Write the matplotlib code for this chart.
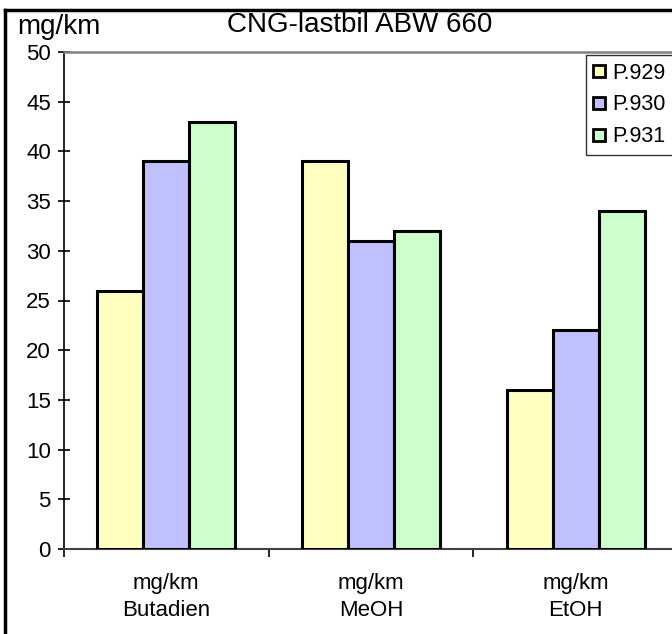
import matplotlib
matplotlib.use('Agg')
import matplotlib.pyplot as plt
import numpy as np
from matplotlib.lines import Line2D

plt.rcParams['font.family'] = 'Liberation Sans'

# Emission data, mg/km
categories = ['mg/km\nButadien', 'mg/km\nMeOH', 'mg/km\nEtOH']
series = ['P.929', 'P.930', 'P.931']
p929 = [26, 39, 16]
p930 = [39, 31, 22]
p931 = [43, 32, 34]
yticks = [0, 5, 10, 15, 20, 25, 30, 35, 40, 45, 50]

colors = ['#FFFFC0', '#C0C0FF', '#CCFFCC']

W, H = 672, 634
fig = plt.figure(figsize=(W / 100, H / 100), dpi=100)

# plot area runs off the right edge of the figure
ax = fig.add_axes([64 / W, (H - 549) / H, 614 / W, 497 / H])

x = np.arange(len(categories)) + 0.5
bw = 0.225
for i, vals in enumerate([p929, p930, p931]):
    ax.bar(x + (i - 1) * bw, vals, bw, color=colors[i], edgecolor='black',
           linewidth=2.2, label=series[i], zorder=3)

ax.set_xlim(0, 3)
ax.set_ylim(0, 50)
ax.set_yticks(yticks)
ax.set_xticks(x)
ax.set_xticklabels(categories, fontsize=16, linespacing=1.4)
ax.set_xticks([0, 1, 2, 3], minor=True)
ax.tick_params(axis='x', which='major', length=0, pad=17)
ax.tick_params(axis='x', which='minor', direction='out', length=6, width=1.2)
ax.tick_params(axis='y', direction='inout', length=9, width=1.2, labelsize=16, pad=5)

ax.spines['right'].set_visible(False)
ax.spines['top'].set_color('#808080')
ax.spines['top'].set_linewidth(1.8)
ax.spines['left'].set_linewidth(1.2)
ax.spines['bottom'].set_color('#404040')
ax.spines['bottom'].set_linewidth(1.5)

# legend with small square keys
handles = [Line2D([], [], marker='s', linestyle='none', markersize=8,
                  markerfacecolor=c, markeredgecolor='black', markeredgewidth=2)
           for c in colors]
leg = fig.legend(handles, series, loc='upper left',
                 bbox_to_anchor=(586 / W, 1 - 55 / H), bbox_transform=fig.transFigure,
                 borderaxespad=0, fontsize=15.5, frameon=True, fancybox=False,
                 edgecolor='black', handlelength=0.5, handletextpad=0.35,
                 labelspacing=0.5, borderpad=0.35)
leg.get_frame().set_linewidth(1.0)

fig.text(360 / W, 1 - 25 / H, 'CNG-lastbil ABW 660', fontsize=20,
         ha='center', va='center')
fig.text(17 / W, 1 - 27 / H, 'mg/km', fontsize=20, ha='left', va='center')

# outer frame, cut off on the right and bottom
fig.add_artist(Line2D([5 / W, 5 / W], [0, 1 - 10 / H], color='black', linewidth=2.5,
                      transform=fig.transFigure))
fig.add_artist(Line2D([5 / W, 1], [1 - 10 / H, 1 - 10 / H], color='black', linewidth=2.5,
                      transform=fig.transFigure))

fig.savefig('out.png', dpi=100)
